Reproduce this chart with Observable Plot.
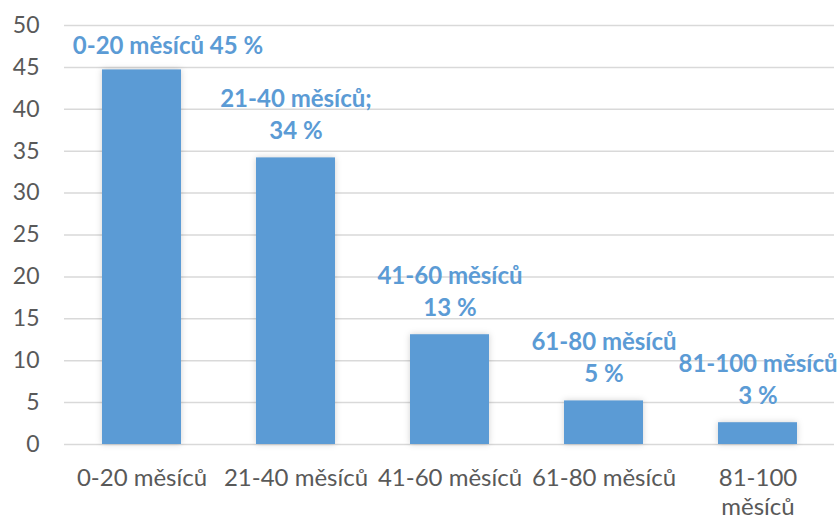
<!DOCTYPE html>
<html>
<head>
<meta charset="utf-8">
<script src="https://cdn.jsdelivr.net/npm/d3@7"></script>
<script src="https://cdn.jsdelivr.net/npm/@observablehq/plot@0.6"></script>
<style>
  html, body { margin: 0; padding: 0; background: white; }
  g[aria-label="bar"] rect { filter: drop-shadow(0 0 3px rgba(0,0,0,0.18)); }
</style>
</head>
<body>
<div id="chart"></div>
<script>
const categories = ["0-20 měsíců", "21-40 měsíců", "41-60 měsíců", "61-80 měsíců", "81-100 měsíců"];
const values = [44.7, 34.2, 13.1, 5.2, 2.6];
const barLabels = ["0-20 měsíců 45 %", "21-40 měsíců;\n34 %", "41-60 měsíců\n13 %", "61-80 měsíců\n5 %", "81-100 měsíců\n3 %"];
const xTickLabels = ["0-20 měsíců", "21-40 měsíců", "41-60 měsíců", "61-80 měsíců", "81-100\nměsíců"];
const yTicks = [0, 5, 10, 15, 20, 25, 30, 35, 40, 45, 50];

const data = categories.map((c, i) => ({category: c, value: values[i], label: barLabels[i]}));
const blue = "#5B9BD5";

const chart = Plot.plot({
  width: 838,
  height: 520,
  marginLeft: 64,
  marginRight: 4,
  marginTop: 25,
  marginBottom: 76,
  style: {fontFamily: "Lato, sans-serif", fontSize: "23px", color: "#595959", background: "white"},
  x: {domain: categories, paddingInner: 0.49, paddingOuter: 0.245, label: null, axis: null},
  y: {domain: [0, 50], label: null, axis: null},
  marks: [
    Plot.gridY(yTicks, {stroke: "#d9d9d9", strokeOpacity: 1, strokeWidth: 1.5}),
    Plot.axisY(yTicks, {tickSize: 0, tickPadding: 25, fill: "#595959", label: null, fontSize: 23}),
    Plot.axisX({tickSize: 0, tickPadding: 21, fill: "#595959", label: null, lineHeight: 1.2, fontSize: 24,
      tickFormat: (d) => xTickLabels[categories.indexOf(d)]}),
    Plot.barY(data, {x: "category", y: "value", fill: blue}),
    Plot.text(data.slice(0, 1), {x: "category", y: "value", text: "label", fill: blue, fontWeight: "bold",
      fontSize: 24, lineAnchor: "bottom", dy: -16, dx: 26}),
    Plot.text(data.slice(1), {x: "category", y: "value", text: "label", fill: blue, fontWeight: "bold",
      fontSize: 24, lineAnchor: "bottom", lineHeight: 1.33, dy: -19})
  ]
});
document.getElementById("chart").appendChild(chart);
</script>
</body>
</html>
